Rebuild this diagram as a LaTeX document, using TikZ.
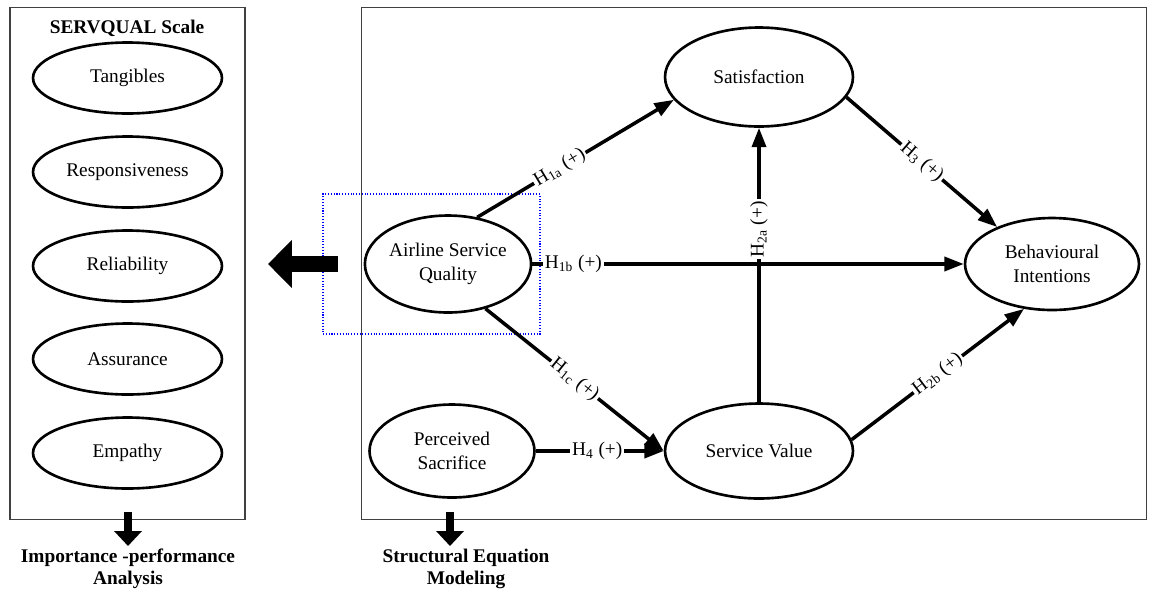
\documentclass[tikz,border=0pt]{standalone}
\usepackage{fontspec}
\setmainfont{Liberation Serif}
\usepackage{tikz}
\usetikzlibrary{shapes}
\usetikzlibrary{arrows.meta}
\tikzstyle{panel}=[rectangle,draw=black!75,line width=0.6pt,inner sep=0mm]
\tikzstyle{servdim}=[ellipse,draw=black,line width=1.5pt,inner sep=0mm,minimum width=3.78cm,minimum height=1.42cm]
\tikzstyle{LV}=[ellipse,draw=black,line width=1.5pt,inner sep=0mm,align=center]
\tikzstyle{arrow}=[->,>={Triangle[length=11pt,width=8pt]},line width=2pt]
\tikzstyle{hyp}=[fill=white,inner sep=1pt,sloped]
\tikzstyle{bigarrow}=[-{Triangle[length=13.6pt,width=26.6pt]},line width=9.6pt]
\tikzstyle{downarrow}=[-{Triangle[length=8.5pt,width=15.3pt]},line width=4.5pt]
\tikzset{every picture/.style={
    x=0.02cm,y=-0.02cm,
    font=\fontsize{11}{13.6}\selectfont
  }
}

\begin{document}
\begin{tikzpicture}
      \useasboundingbox (0,0) rectangle (1152,593);
      % panels
      \node[panel,minimum width=4.7cm,minimum height=10.26cm] at (127.5,263.5) (servbox) {};
      \node[panel,minimum width=15.72cm,minimum height=10.26cm] at (754,263.5) (sembox) {};
      \node[draw=blue,densely dotted,line width=0.6pt,minimum width=4.34cm,minimum height=2.8cm,inner sep=0mm] at (431.5,264) (focus) {};
      % SERVQUAL dimensions
      \node[font=\fontsize{11}{13.6}\selectfont\bfseries] at (127,28) (servtitle) {SERVQUAL Scale};
      \node[servdim] at (127.5,78) (tang) {Tangibles};
      \node[servdim] at (127.5,172) (resp) {Responsiveness};
      \node[servdim] at (127.5,266) (reli) {Reliability};
      \node[servdim] at (127.5,359) (assu) {Assurance};
      \node[servdim] at (127.5,453) (empa) {Empathy};
      % structural model
      \node[LV,minimum width=3.76cm,minimum height=1.98cm] at (759,77) (sat) {Satisfaction};
      \node[LV,minimum width=3.3cm,minimum height=1.94cm] at (448,264) (asq) {Airline Service\\Quality};
      \node[LV,minimum width=3.48cm,minimum height=1.84cm] at (1052,264) (bi) {Behavioural\\Intentions};
      \node[LV,minimum width=3.3cm,minimum height=1.86cm] at (452,451) (ps) {Perceived\\Sacrifice};
      \node[LV,minimum width=3.76cm,minimum height=1.9cm] at (759,451) (sv) {Service Value};
      \draw[arrow] (asq.58) -- node[hyp,pos=0.42] {H\textsubscript{1a} (+)} (sat.195);
      \draw[arrow] (asq.east) -- node[hyp,pos=0.095] {H\textsubscript{1b} (+)} (bi.west);
      \draw[arrow] (asq.-50) -- node[hyp,pos=0.5] {H\textsubscript{1c} (+)} (sv.west);
      \draw[arrow] (sv.north) -- node[hyp,pos=0.63] {H\textsubscript{2a} (+)} (sat.south);
      \draw[arrow] (sv.7) -- node[hyp,pos=0.5] {H\textsubscript{2b} (+)} (bi.-122);
      \draw[arrow] (sat.-13) -- node[hyp,pos=0.5] {H\textsubscript{3} (+)} (bi.146);
      \draw[arrow] (ps.east) -- node[hyp,pos=0.48] {H\textsubscript{4} (+)} (sv.west);
      % block arrows
      \coordinate (bigtail) at (338,264);
      \coordinate (bigtip) at (268,264);
      \draw[bigarrow] (bigtail) -- (bigtip);
      \coordinate (ipatop) at (128,512);
      \coordinate (ipatip) at (128,546);
      \draw[downarrow] (ipatop) -- (ipatip);
      \coordinate (semtop) at (450,512);
      \coordinate (semtip) at (450,546);
      \draw[downarrow] (semtop) -- (semtip);
      \node[font=\fontsize{11}{12.5}\selectfont\bfseries,align=center] at (128,569) (ipa) {Importance -performance\\Analysis};
      \node[font=\fontsize{11}{12.5}\selectfont\bfseries,align=center] at (466,569) (sem) {Structural Equation\\Modeling};
    \end{tikzpicture}
\end{document}
